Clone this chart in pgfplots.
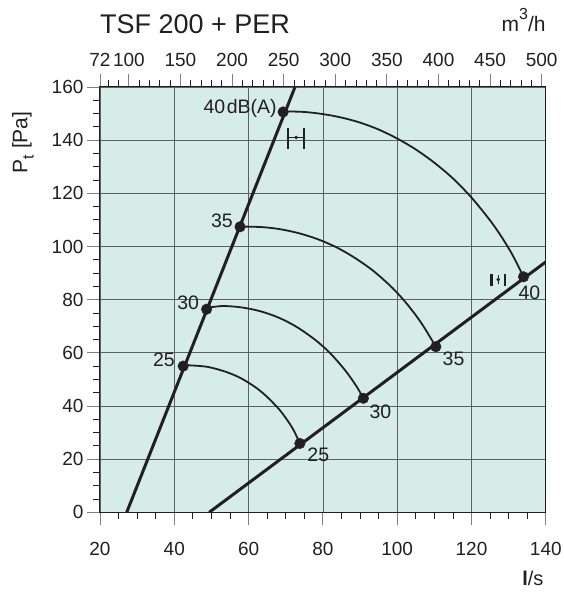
\documentclass[border=0pt]{standalone}
\usepackage{pgfplots}
\pgfplotsset{compat=1.18}
\usepackage{fontspec}
\setmainfont{Liberation Sans}
\definecolor{bgc}{RGB}{214,236,233}
\definecolor{ink}{RGB}{35,31,32}
\definecolor{gridc}{RGB}{95,95,95}
\begin{document}
\begin{tikzpicture}
\pgfplotsset{/pgf/number format/assume math mode=true}
% main axis
\begin{axis}[name=ax, scale only axis, width=446pt, height=425.5pt,
  xmin=20, xmax=140, ymin=0, ymax=160,
  axis background/.style={fill=bgc},
  axis line style={ink, line width=1pt},
  xtick={20,40,...,140}, xticklabels={}, xtick style={draw=none},
  ytick={0,20,...,160}, minor ytick={5,10,...,155},
  ytick pos=left, tick align=outside,
  major tick length=13pt, minor tick length=7pt,
  major tick style={gray, line width=0.8pt},
  minor tick style={ink, line width=0.8pt},
  yticklabel style={font=\fontsize{19}{19}\selectfont, ink},
  grid=major, major grid style={gridc, line width=0.7pt},
  clip=true]
% straight lines
\addplot[ink, line width=3pt] coordinates {(27.2,0) (72.5,160)};
\addplot[ink, line width=3pt] coordinates {(49.4,0) (140,94.2)};
% arcs
\addplot[ink, line width=1.8pt, smooth] coordinates {(69.3,150.7) (70,150.8) (75,150.6) (80,149.8) (85,148.5) (90,146.6) (95,144.0) (100,140.6) (105,136.5) (110,131.5) (115,125.6) (120,118.4) (125,109.8) (128,103.8) (131,96.9) (134,88.6)};
\addplot[ink, line width=1.8pt, smooth] coordinates {(57.7,107.5) (63.5,107.3) (68.5,106.5) (73.5,105.0) (78.5,102.8) (83.5,99.8) (88.5,95.8) (93.5,90.9) (98.5,84.7) (102.5,78.6) (106.5,71.2) (110.4,62.3)};
\addplot[ink, line width=1.8pt, smooth] coordinates {(48.7,76.9) (53,77.6) (58,77.1) (63,75.7) (68,73.3) (73,69.7) (78,64.8) (82,59.8) (86,53.4) (89,47.5) (90.9,42.9)};
\addplot[ink, line width=1.8pt, smooth] coordinates {(42.4,55.1) (44,55.3) (49,54.7) (54,52.8) (58,50.4) (62,46.9) (65,43.4) (68,39.1) (70,35.5) (72,31.2) (73.8,26.0)};
% points
\addplot[only marks, mark=*, mark size=5.3pt, ink] coordinates {(69.3,150.6) (57.7,107.4) (48.7,76.4) (42.4,55.0) (73.8,25.9) (90.9,42.9) (110.4,62.3) (134.0,88.6)};
% tolerance symbols
\addplot[ink, line width=2.2pt] coordinates {(70.6,136.6) (70.6,144.4)};
\addplot[ink, line width=2.2pt] coordinates {(74.9,136.6) (74.9,144.4)};
\addplot[ink, line width=1pt] coordinates {(70.6,141) (74.9,141)};
\addplot[only marks, mark=*, mark size=1.6pt, ink] coordinates {(72.8,141)};
\addplot[ink, line width=2.2pt] coordinates {(125.4,85.1) (125.4,89.8)};
\addplot[ink, line width=2.2pt] coordinates {(129.0,85.1) (129.0,89.8)};
\addplot[ink, line width=1pt] coordinates {(127.2,85.7) (127.2,89.2)};
\addplot[only marks, mark=*, mark size=1.6pt, ink] coordinates {(127.2,87.6)};
% labels
\begin{scope}[every node/.style={font=\fontsize{19.5}{19.5}\selectfont, text=ink, inner sep=0pt}]
\node[anchor=east] at (axis cs:67.6,152.0) {40\hspace{1.5pt}dB(A)};
\node[anchor=east] at (axis cs:55.8,109.5) {35};
\node[anchor=east] at (axis cs:46.7,78.8) {30};
\node[anchor=east] at (axis cs:40.2,57.3) {25};
\node[anchor=west] at (axis cs:75.8,21.5) {25};
\node[anchor=west] at (axis cs:92.5,37.8) {30};
\node[anchor=west] at (axis cs:112.2,57.6) {35};
\node[anchor=west] at (axis cs:132.6,82.6) {40};
\end{scope}
\end{axis}
% bottom axis ticks (l/s)
\begin{axis}[scale only axis, width=446pt, height=425.5pt,
  xmin=20, xmax=140, ymin=0, ymax=160,
  axis x line*=bottom, axis y line=none,
  axis line style={ink, line width=1pt},
  xtick={20,40,...,140}, minor xtick={25,30,...,135},
  tick align=outside, major tick length=13pt, minor tick length=7pt,
  major tick style={gray, line width=0.8pt},
  minor tick style={ink, line width=0.8pt},
  xticklabel style={font=\fontsize{19}{19}\selectfont, ink, yshift=-13pt}]
\end{axis}
% top axis (m3/h)
\begin{axis}[scale only axis, width=446pt, height=425.5pt,
  xmin=72, xmax=504, ymin=0, ymax=160,
  axis x line*=top, axis y line=none,
  axis line style={ink, line width=1pt},
  xtick={72,100,150,...,500}, minor xtick={80,90,...,500},
  tick align=outside, major tick length=13pt, minor tick length=7pt,
  major tick style={gray, line width=0.8pt},
  minor tick style={ink, line width=0.8pt},
  xticklabel style={font=\fontsize{19}{19}\selectfont, ink, yshift=4pt}]
\end{axis}
\node[anchor=base west, font=\fontsize{27}{27}\selectfont, text=ink, inner sep=0pt] at ([xshift=0pt,yshift=53.7pt]ax.north west) {TSF 200 + PER};
\node[anchor=base east, font=\fontsize{21}{21}\selectfont, text=ink, inner sep=0pt] at ([xshift=0pt,yshift=55pt]ax.north east) {m\raisebox{0.6em}{\fontsize{16}{16}\selectfont 3}/h};
\node[anchor=center, font=\fontsize{20}{20}\selectfont, text=ink, inner sep=0pt] at ([xshift=-13pt,yshift=-65.7pt]ax.south east) {{\bfseries l}/s};
\node[anchor=center, rotate=90, font=\fontsize{21}{21}\selectfont, text=ink, inner sep=0pt] at ([xshift=-77pt,yshift=-55.5pt]ax.north west) {P\raisebox{-0.3em}{\fontsize{16}{16}\selectfont t} [Pa]};
\pgfresetboundingbox
\path ([xshift=-100pt,yshift=-81.7pt]ax.south west) rectangle ([xshift=18pt,yshift=87pt]ax.north east);
\end{tikzpicture}
\end{document}
